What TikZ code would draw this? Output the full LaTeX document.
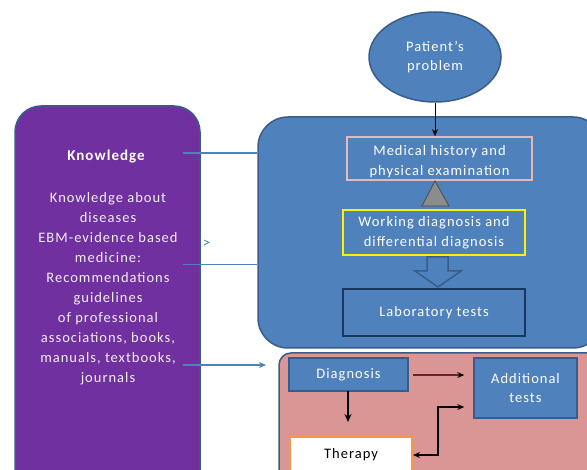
\documentclass[tikz,border=0pt]{standalone}
\usepackage{fontspec}
\setmainfont{Carlito}[LetterSpace=7]
\usetikzlibrary{arrows.meta,shapes.geometric}
\definecolor{obl}{HTML}{4F81BD}
\definecolor{obd}{HTML}{385D8A}
\definecolor{opur}{HTML}{7030A0}
\definecolor{opink}{HTML}{D99694}
\definecolor{lpink}{HTML}{E6B9B8}
\definecolor{navy}{HTML}{17375E}
\definecolor{oor}{HTML}{F79646}
\definecolor{lav}{HTML}{F2EEF7}
\tikzset{
  txt/.style={font=\fontsize{14.5}{19.5}\selectfont, text=white, align=center, inner sep=0pt},
  bx/.style={draw, line width=1.5pt, fill=obl, minimum width=#1, inner sep=0pt},
  tip/.style={-{Stealth[length=7pt,width=6pt]}},
}
\begin{document}
\begin{tikzpicture}[x=1pt,y=-1pt]
\useasboundingbox (0,0) rectangle (587,470);
\clip (0,0) rectangle (587,470);
% big containers
\draw[obd, line width=1.5pt, fill=opur, rounded corners=26pt] (15,106) rectangle (200,500);
\node[txt, text=lav, font=\fontsize{14.5}{20}\selectfont] (knowtext) at (108,289) {Knowledge about\\diseases\\EBM-evidence based\\medicine:\\Recommendations\\guidelines\\of professional\\associations, books,\\manuals, textbooks,\\journals};
\node[txt, font=\fontsize{15}{20}\bfseries\selectfont] (knowtitle) at (106,157) {Knowledge};
\node[draw=obd, line width=1.5pt, fill=obl, rounded corners=30pt, minimum width=345pt, minimum height=231pt, inner sep=0pt] (big) at (430.5,232.5) {};
\node[draw=obd, line width=1.5pt, fill=opink, rounded corners=12pt, minimum width=330pt, minimum height=140pt, inner sep=0pt] (pinkbox) at (444,423) {};
% top ellipse
\node[ellipse, draw=obd, line width=1.5pt, fill=obl, minimum width=132pt, minimum height=90pt, inner sep=0pt, txt] (pat) at (435,57) {Patient’s\\problem};
% inner boxes
\node[bx=185pt, draw=lpink, minimum height=43pt] (med) at (439.5,158.5) {};
\node[txt] (medtext) at (439.5,161.5) {Medical history and\\physical examination};
\node[bx=182pt, draw=yellow, minimum height=45pt, txt] (work) at (434,232.5) {Working diagnosis and\\differential diagnosis};
\node[bx=182pt, draw=navy, line width=2pt, minimum height=47pt, txt] (lab) at (434,312.5) {Laboratory tests};
\node[bx=119pt, draw=obd, minimum height=33pt, txt] (diag) at (348.5,374.5) {Diagnosis};
\node[bx=103pt, draw=obd, minimum height=60pt, txt] (add) at (525.5,388) {Additional\\tests};
\node[draw=oor, line width=2pt, fill=white, minimum width=122pt, minimum height=40pt, inner sep=0pt] (ther) at (351,457) {};
\node[txt, text=black] (thertext) at (351,455) {Therapy};
% triangle and block arrow
\draw[fill=gray!90, draw=gray!60!black, line width=0.8pt] (435,181) -- ++(14,25) -- ++(-27,0) -- cycle;
\draw[fill=obl, draw=obd, line width=1.5pt] (427,257) -- (448,257) -- (448,271) -- (461,271) -- (438,287) -- (415,271) -- (427,271) -- cycle;
% connectors
\draw[tip, line width=0.9pt, black] (pat.south) -- (pat.south |- med.north);
\coordinate (k1) at (183,153);
\coordinate (k2) at (183,264);
\coordinate (k3) at (183,365);
\coordinate (k3e) at (266,365);
\draw[obl, line width=2pt] (k1) -- (k1 -| big.west);
\draw[obl, line width=0.8pt] (k2) -- (k2 -| big.west);
\draw[obl, line width=2pt, -{Stealth[length=7pt,width=6pt]}] (k3) -- (k3e);
\draw[obl, line width=0.8pt] (204,240) -- (209,242.5) -- (204,245);
\coordinate (d1) at (413,375);
\draw[line width=1.1pt, draw={rgb,255:red,99;green,37;blue,35}, -{Stealth[length=7pt,width=6pt,color=black]}] (d1) -- ([xshift=-9pt]d1 -| add.west);
\draw[line width=2pt, -{Stealth[length=8pt,width=7pt]}] (348,391) -- (348,422);
\coordinate (tc) at (438,455);
\coordinate (ta) at (438,407);
\draw[line width=1.3pt, {Stealth[length=7pt,width=6pt]}-{Stealth[length=7pt,width=6pt]}] (ther.east |- tc) -- (tc) -- (ta) -- ([xshift=-9pt]ta -| add.west);
\end{tikzpicture}
\end{document}
